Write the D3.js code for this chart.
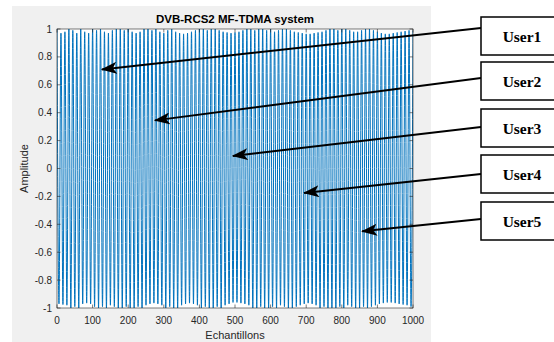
<!DOCTYPE html>
<html>
<head>
<meta charset="utf-8">
<script src="https://cdn.jsdelivr.net/npm/d3@7"></script>
<style>
    body { margin: 0; background: #ffffff; }
    svg { display: block; }
    .tick-label { font-family: "Liberation Sans", Arial, sans-serif; font-size: 10px; fill: #262626; }
    .user-label { font-family: "Liberation Serif", "Times New Roman", serif; font-size: 15.5px; font-weight: bold; fill: #000; }
</style>
</head>
<body>
<svg id="chart" width="554" height="342"></svg>
<script>
    // Data Model
    var title = "DVB-RCS2 MF-TDMA system";
    var xLabel = "Echantillons";
    var yLabel = "Amplitude";
    var xTicks = [0, 100, 200, 300, 400, 500, 600, 700, 800, 900, 1000];
    var yTicks = [-1, -0.8, -0.6, -0.4, -0.2, 0, 0.2, 0.4, 0.6, 0.8, 1];
    var sampleCount = 1000;

    // peak amplitudes of each oscillation
    var peakTop = [
        1.0, 0.97, 0.98, 1.0, 0.99, 0.97, 1.0, 0.98, 0.97, 1.0,
        0.99, 1.0, 0.98, 0.97, 0.99, 1.0, 1.0, 0.99, 1.0, 0.98,
        0.97, 0.98, 1.0, 1.0, 0.99, 1.0, 0.98, 0.97, 0.99, 1.0,
        0.98, 0.97, 0.965, 0.97, 0.98, 0.99, 1.0, 1.0, 0.99, 1.0,
        1.0, 0.99, 0.98, 0.975, 0.97, 0.975, 0.98, 0.99, 1.0, 1.0,
        0.99, 1.0, 1.0, 0.99, 1.0, 0.98, 0.99, 1.0, 1.0, 0.99,
        0.98, 0.975, 0.97, 0.965, 0.965, 0.97, 0.975, 0.98, 0.99, 1.0,
        1.0, 0.99, 1.0, 1.0, 0.99, 0.98, 0.98, 0.99, 1.0, 1.0,
        0.99, 0.98, 0.97, 0.965, 0.965, 0.97, 0.975, 0.98, 0.985, 0.99
    ];
    var peakBottom = [
        -0.97, -0.975, -0.98, -1.0, -0.99, -1.0, -0.97, -0.965, -0.97, -0.99,
        -1.0, -0.99, -1.0, -0.98, -0.99, -1.0, -1.0, -0.99, -1.0, -1.0,
        -0.99, -1.0, -0.98, -0.97, -0.965, -0.97, -0.98, -1.0, -0.99, -1.0,
        -1.0, -0.98, -0.97, -0.965, -0.97, -0.98, -1.0, -0.99, -1.0, -1.0,
        -0.99, -1.0, -0.98, -0.97, -0.96, -0.96, -0.965, -0.97, -0.98, -1.0,
        -1.0, -0.99, -1.0, -1.0, -0.99, -1.0, -0.98, -0.99, -1.0, -1.0,
        -0.99, -0.98, -0.97, -0.965, -0.97, -0.98, -1.0, -0.99, -1.0, -1.0,
        -1.0, -0.99, -1.0, -0.98, -0.99, -1.0, -1.0, -0.99, -1.0, -0.99,
        -0.98, -0.97, -0.965, -0.96, -0.96, -0.965, -0.97, -0.975, -0.98, -0.99
    ];

    // annotations: where each arrow points (sample, amplitude)
    var users = ["User1", "User2", "User3", "User4", "User5"];
    var arrowSample = [126, 275, 494, 694, 857];
    var arrowAmp = [0.71, 0.345, 0.09, -0.175, -0.45];

    // Dimensions
    var margin = { left: 57, right: 413, top: 29, bottom: 308 };
    var boxLeft = 481, boxTops = [17, 62, 109, 155, 202], boxH = 38;
    var lineStartY = [28, 78, 127, 174, 219];

    var svg = d3.select("#chart");

    // MATLAB figure background
    svg.append("rect")
        .attr("x", 12).attr("y", 6)
        .attr("width", 419).attr("height", 340)
        .attr("fill", "#f0f0f0");

    var x = d3.scaleLinear().domain([0, sampleCount]).range([margin.left, margin.right]);
    var y = d3.scaleLinear().domain([-1, 1]).range([margin.bottom, margin.top]);

    svg.append("rect")
        .attr("x", margin.left).attr("y", margin.top)
        .attr("width", margin.right - margin.left)
        .attr("height", margin.bottom - margin.top)
        .attr("fill", "#ffffff");

    // build the extremes of the oscillation
    var period = sampleCount / peakTop.length;
    var points = [];
    peakTop.forEach(function(v, i) {
        points.push({ time: i * period, amp: v });
        points.push({ time: i * period + period / 2, amp: peakBottom[i] });
    });
    points.push({ time: sampleCount, amp: peakTop[peakTop.length - 1] });

    var signalLine = d3.line()
        .x(function(d) { return x(d.time); })
        .y(function(d) { return y(d.amp); })
        .curve(d3.curveMonotoneX);

    svg.append("clipPath").attr("id", "plotClip")
        .append("rect")
        .attr("x", margin.left).attr("y", margin.top - 1)
        .attr("width", margin.right - margin.left)
        .attr("height", margin.bottom - margin.top + 2);

    svg.append("path")
        .datum(points)
        .attr("clip-path", "url(#plotClip)")
        .attr("fill", "none")
        .attr("stroke", "#0072bd")
        .attr("stroke-width", 1)
        .attr("d", signalLine);

    // Axis box with inward ticks on all sides
    var axisColor = "#262626";
    var tickLen = 3.5;
    var axes = svg.append("g");

    axes.append("rect")
        .attr("x", margin.left).attr("y", margin.top)
        .attr("width", margin.right - margin.left)
        .attr("height", margin.bottom - margin.top)
        .attr("fill", "none")
        .attr("stroke", axisColor)
        .attr("stroke-width", 0.6);

    xTicks.forEach(function(t) {
        axes.append("line")
            .attr("x1", x(t)).attr("x2", x(t))
            .attr("y1", margin.bottom).attr("y2", margin.bottom - tickLen)
            .attr("stroke", axisColor).attr("stroke-width", 0.6);
        axes.append("line")
            .attr("x1", x(t)).attr("x2", x(t))
            .attr("y1", margin.top).attr("y2", margin.top + tickLen)
            .attr("stroke", axisColor).attr("stroke-width", 0.6);
        axes.append("text")
            .attr("class", "tick-label")
            .attr("x", x(t)).attr("y", margin.bottom + 16)
            .attr("text-anchor", "middle")
            .text(t);
    });

    yTicks.forEach(function(t) {
        axes.append("line")
            .attr("x1", margin.left).attr("x2", margin.left + tickLen)
            .attr("y1", y(t)).attr("y2", y(t))
            .attr("stroke", axisColor).attr("stroke-width", 0.6);
        axes.append("line")
            .attr("x1", margin.right).attr("x2", margin.right - tickLen)
            .attr("y1", y(t)).attr("y2", y(t))
            .attr("stroke", axisColor).attr("stroke-width", 0.6);
        axes.append("text")
            .attr("class", "tick-label")
            .attr("x", margin.left - 5).attr("y", y(t) + 3.5)
            .attr("text-anchor", "end")
            .text(t);
    });

    // Title and labels
    svg.append("text")
        .attr("x", (margin.left + margin.right) / 2).attr("y", 23)
        .attr("text-anchor", "middle")
        .style("font-family", "'Liberation Sans', Arial, sans-serif")
        .style("font-size", "11.5px").style("font-weight", "bold")
        .attr("fill", "#000")
        .text(title);

    svg.append("text")
        .attr("x", (margin.left + margin.right) / 2).attr("y", 339)
        .attr("text-anchor", "middle")
        .style("font-family", "'Liberation Sans', Arial, sans-serif")
        .style("font-size", "11px")
        .attr("fill", axisColor)
        .text(xLabel);

    svg.append("text")
        .attr("transform", "translate(28," + ((margin.top + margin.bottom) / 2) + ") rotate(-90)")
        .attr("text-anchor", "middle")
        .style("font-family", "'Liberation Sans', Arial, sans-serif")
        .style("font-size", "11px")
        .attr("fill", axisColor)
        .text(yLabel);

    // Arrow head marker
    svg.append("defs").append("marker")
        .attr("id", "arrow")
        .attr("viewBox", "0 0 16 12")
        .attr("refX", 15).attr("refY", 6)
        .attr("markerWidth", 16).attr("markerHeight", 12)
        .attr("markerUnits", "userSpaceOnUse")
        .attr("orient", "auto")
        .append("path")
        .attr("d", "M0,0 L16,6 L0,12 L4,6 Z")
        .attr("fill", "#000");

    // User boxes with arrows
    users.forEach(function(u, i) {
        svg.append("line")
            .attr("x1", boxLeft).attr("y1", lineStartY[i])
            .attr("x2", x(arrowSample[i])).attr("y2", y(arrowAmp[i]))
            .attr("stroke", "#000")
            .attr("stroke-width", 2)
            .attr("marker-end", "url(#arrow)");

        svg.append("rect")
            .attr("x", boxLeft).attr("y", boxTops[i])
            .attr("width", 90).attr("height", boxH)
            .attr("fill", "#fff")
            .attr("stroke", "#000")
            .attr("stroke-width", 1.5);

        svg.append("text")
            .attr("class", "user-label")
            .attr("x", 522).attr("y", boxTops[i] + boxH / 2 + 5.5)
            .attr("text-anchor", "middle")
            .text(u);
    });
</script>
</body>
</html>
